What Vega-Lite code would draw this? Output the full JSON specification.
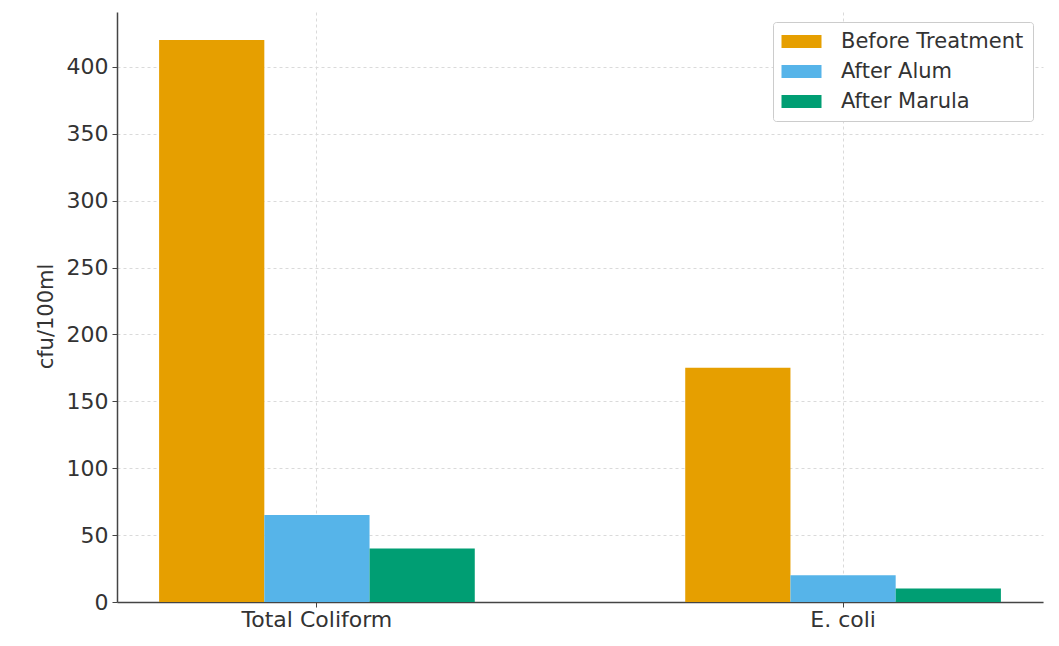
{
  "$schema": "https://vega.github.io/schema/vega-lite/v6.json",
  "width": 926,
  "height": 590,
  "autosize": {"type": "none"},
  "padding": {"left": 117, "top": 12, "right": 16, "bottom": 44},
  "background": "white",
  "config": {
    "font": "DejaVu Sans",
    "view": {"stroke": null},
    "axis": {
      "labelFont": "DejaVu Sans",
      "titleFont": "DejaVu Sans",
      "labelColor": "#333333",
      "titleColor": "#333333",
      "domainColor": "#444444",
      "tickColor": "#444444",
      "gridColor": "#dadada",
      "gridDash": [3, 3]
    }
  },
  "data": {
    "values": [
      {"parameter": "Total Coliform", "stage": "Before Treatment", "value": 420},
      {"parameter": "Total Coliform", "stage": "After Alum", "value": 65},
      {"parameter": "Total Coliform", "stage": "After Marula", "value": 40},
      {"parameter": "E. coli", "stage": "Before Treatment", "value": 175},
      {"parameter": "E. coli", "stage": "After Alum", "value": 20},
      {"parameter": "E. coli", "stage": "After Marula", "value": 10}
    ]
  },
  "mark": {"type": "bar"},
  "encoding": {
    "x": {
      "field": "parameter",
      "type": "nominal",
      "sort": ["Total Coliform", "E. coli"],
      "scale": {"paddingInner": 0.4, "paddingOuter": 0.08},
      "axis": {
        "title": null,
        "labelAngle": 0,
        "labelFontSize": 22,
        "labelPadding": 2,
        "tickSize": 5,
        "bandPosition": 0.5,
        "grid": true,
        "domainWidth": 1.5
      }
    },
    "xOffset": {
      "field": "stage",
      "type": "nominal",
      "sort": ["Before Treatment", "After Alum", "After Marula"],
      "scale": {"paddingInner": 0, "paddingOuter": 0}
    },
    "y": {
      "field": "value",
      "type": "quantitative",
      "scale": {"domain": [0, 441], "nice": false},
      "axis": {
        "title": "cfu/100ml",
        "titleFontSize": 21,
        "titleFontWeight": "normal",
        "titlePadding": 10,
        "titleY": 304,
        "labelFontSize": 22,
        "labelPadding": 4,
        "tickSize": 5,
        "values": [0, 50, 100, 150, 200, 250, 300, 350, 400],
        "grid": true,
        "domainWidth": 1.5
      }
    },
    "color": {
      "field": "stage",
      "type": "nominal",
      "sort": ["Before Treatment", "After Alum", "After Marula"],
      "scale": {
        "domain": ["Before Treatment", "After Alum", "After Marula"],
        "range": ["#E69F00", "#56B4E9", "#009E73"]
      },
      "legend": {
        "title": null,
        "orient": "top-right",
        "offset": 10,
        "symbolType": "M-2,-0.65L2,-0.65L2,0.65L-2,0.65Z",
        "symbolSize": 400,
        "symbolStrokeWidth": 0,
        "symbolOffset": 9,
        "labelFontSize": 21,
        "labelOffset": 29,
        "labelLimit": 300,
        "labelColor": "#333333",
        "rowPadding": 8,
        "padding": 9,
        "fillColor": "white",
        "strokeColor": "#cccccc",
        "cornerRadius": 3
      }
    }
  }
}
